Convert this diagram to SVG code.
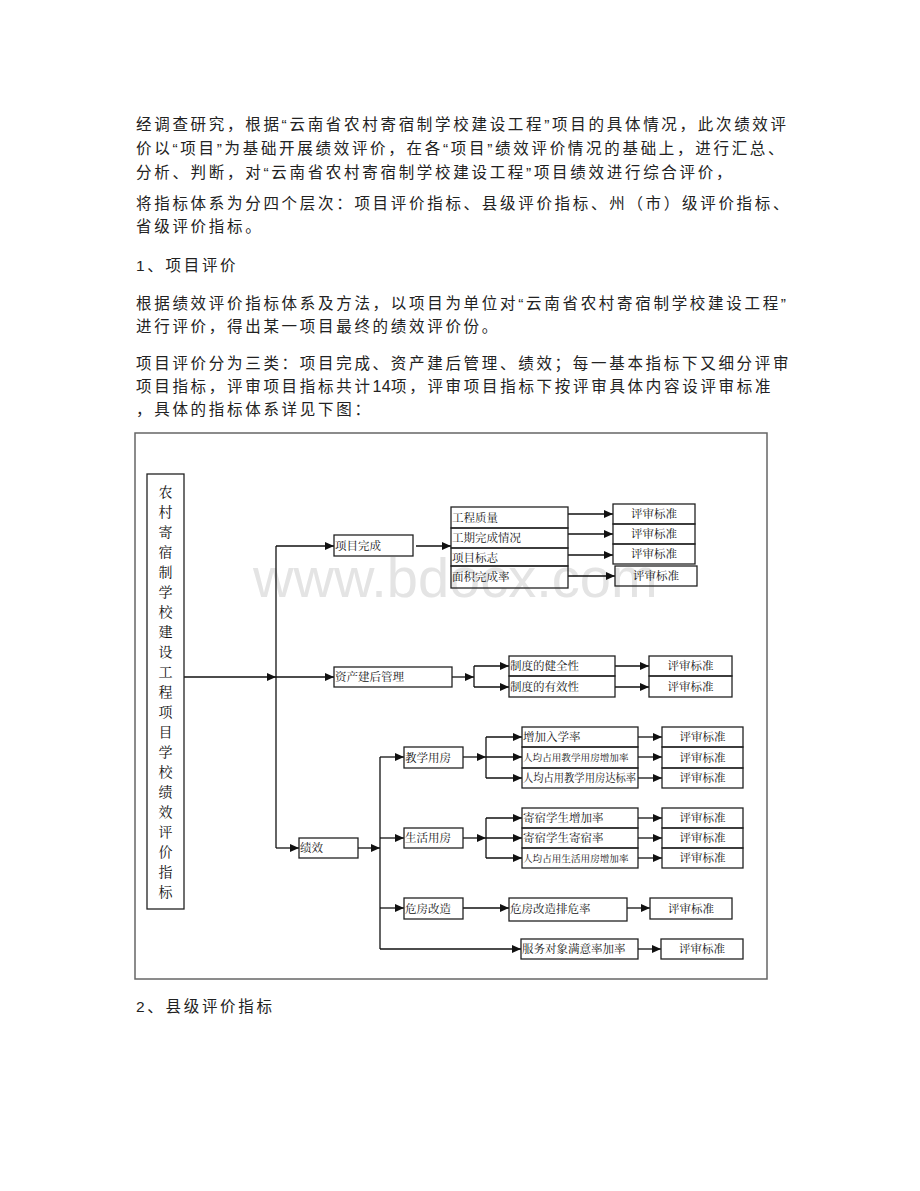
<svg xmlns="http://www.w3.org/2000/svg" width="920" height="1191" viewBox="0 0 920 1191">
<style>
.p{font-family:"Liberation Sans","Noto Sans CJK SC",sans-serif;font-size:15.5px;letter-spacing:2.7px;fill:#222}
.d{letter-spacing:0.3px;font-size:16px}
.box{fill:none;stroke:#222;stroke-width:1.3}
.ln{fill:none;stroke:#111;stroke-width:1.3}
.t{font-family:"Noto Serif CJK SC","Noto Sans CJK SC",serif;font-size:11.5px;fill:#111}
.s{font-size:9.6px}
.c{text-anchor:middle}
.v{font-family:"Noto Serif CJK SC","Noto Sans CJK SC",serif;font-size:14px;fill:#111;text-anchor:middle}
.wm{font-family:"Liberation Sans",Arial,sans-serif;font-size:56px;fill:#e4e4e4}
</style>
<defs>
<marker id="ar" markerUnits="userSpaceOnUse" markerWidth="10" markerHeight="8" refX="9" refY="4" orient="auto">
<path d="M0,0 L9,4 L0,8 Z" fill="#111"/>
</marker>
</defs>
<rect width="920" height="1191" fill="#fff"/>

<g id="body-text">
<text class="p" x="136" y="130">经调查研究，根据“云南省农村寄宿制学校建设工程”项目的具体情况，此次绩效评</text>
<text class="p" x="136" y="154">价以“项目”为基础开展绩效评价，在各“项目”绩效评价情况的基础上，进行汇总、</text>
<text class="p" x="136" y="178">分析、判断，对“云南省农村寄宿制学校建设工程”项目绩效进行综合评价，</text>
<text class="p" x="136" y="209">将指标体系为分四个层次：项目评价指标、县级评价指标、州（市）级评价指标、</text>
<text class="p" x="136" y="232">省级评价指标。</text>
<text class="p" x="136" y="271">1、项目评价</text>
<text class="p" x="136" y="309">根据绩效评价指标体系及方法，以项目为单位对“云南省农村寄宿制学校建设工程”</text>
<text class="p" x="136" y="332">进行评价，得出某一项目最终的绩效评价份。</text>
<text class="p" x="136" y="369">项目评价分为三类：项目完成、资产建后管理、绩效；每一基本指标下又细分评审</text>
<text class="p" x="136" y="392">项目指标，评审项目指标共计<tspan class="d">14</tspan>项，评审项目指标下按评审具体内容设评审标准</text>
<text class="p" x="136" y="415">，具体的指标体系详见下图：</text>
<text class="p" x="136" y="1012">2、县级评价指标</text>
</g>

<rect id="frame" x="135" y="433" width="632" height="546" fill="none" stroke="#666" stroke-width="1.5"/>
<text id="watermark" class="wm" x="253" y="597">www.bdocx.com</text>

<g id="connectors">
<path class="ln" d="M184,677 H276" marker-end="url(#ar)"/>
<path class="ln" d="M276,546 V848"/>
<path class="ln" d="M276,546 H334" marker-end="url(#ar)"/>
<path class="ln" d="M276,677 H334" marker-end="url(#ar)"/>
<path class="ln" d="M276,848 H299" marker-end="url(#ar)"/>
<path class="ln" d="M416,546 H451" marker-end="url(#ar)"/>
<path class="ln" d="M568,514 H613" marker-end="url(#ar)"/>
<path class="ln" d="M568,534 H613" marker-end="url(#ar)"/>
<path class="ln" d="M568,555 H613" marker-end="url(#ar)"/>
<path class="ln" d="M568,576 H615" marker-end="url(#ar)"/>
<path class="ln" d="M452,677 H474" marker-end="url(#ar)"/>
<path class="ln" d="M474,666 V687"/>
<path class="ln" d="M474,666 H509" marker-end="url(#ar)"/>
<path class="ln" d="M474,687 H509" marker-end="url(#ar)"/>
<path class="ln" d="M615,666 H649" marker-end="url(#ar)"/>
<path class="ln" d="M615,687 H649" marker-end="url(#ar)"/>
<path class="ln" d="M358,848 H380" marker-end="url(#ar)"/>
<path class="ln" d="M380,757 V949"/>
<path class="ln" d="M380,757 H404" marker-end="url(#ar)"/>
<path class="ln" d="M380,838 H404" marker-end="url(#ar)"/>
<path class="ln" d="M380,908 H404" marker-end="url(#ar)"/>
<path class="ln" d="M380,949 H521" marker-end="url(#ar)"/>
<path class="ln" d="M463,757 H486" marker-end="url(#ar)"/>
<path class="ln" d="M486,737 V778"/>
<path class="ln" d="M486,737 H522" marker-end="url(#ar)"/>
<path class="ln" d="M486,757 H522" marker-end="url(#ar)"/>
<path class="ln" d="M486,778 H522" marker-end="url(#ar)"/>
<path class="ln" d="M638,737 H662" marker-end="url(#ar)"/>
<path class="ln" d="M638,757 H662" marker-end="url(#ar)"/>
<path class="ln" d="M638,778 H662" marker-end="url(#ar)"/>
<path class="ln" d="M463,838 H486" marker-end="url(#ar)"/>
<path class="ln" d="M486,818 V858"/>
<path class="ln" d="M486,818 H522" marker-end="url(#ar)"/>
<path class="ln" d="M486,838 H522" marker-end="url(#ar)"/>
<path class="ln" d="M486,858 H522" marker-end="url(#ar)"/>
<path class="ln" d="M638,818 H662" marker-end="url(#ar)"/>
<path class="ln" d="M638,838 H662" marker-end="url(#ar)"/>
<path class="ln" d="M638,858 H662" marker-end="url(#ar)"/>
<path class="ln" d="M463,908 H509" marker-end="url(#ar)"/>
<path class="ln" d="M627,908 H650" marker-end="url(#ar)"/>
<path class="ln" d="M638,949 H661" marker-end="url(#ar)"/>
</g>

<g id="root">
<rect class="box" x="147" y="474" width="37" height="435"/>
<text class="v" x="165.5" y="497">农</text>
<text class="v" x="165.5" y="517">村</text>
<text class="v" x="165.5" y="537">寄</text>
<text class="v" x="165.5" y="557">宿</text>
<text class="v" x="165.5" y="577">制</text>
<text class="v" x="165.5" y="597">学</text>
<text class="v" x="165.5" y="617">校</text>
<text class="v" x="165.5" y="637">建</text>
<text class="v" x="165.5" y="657">设</text>
<text class="v" x="165.5" y="677">工</text>
<text class="v" x="165.5" y="697">程</text>
<text class="v" x="165.5" y="717">项</text>
<text class="v" x="165.5" y="737">目</text>
<text class="v" x="165.5" y="757">学</text>
<text class="v" x="165.5" y="777">校</text>
<text class="v" x="165.5" y="797">绩</text>
<text class="v" x="165.5" y="817">效</text>
<text class="v" x="165.5" y="837">评</text>
<text class="v" x="165.5" y="857">价</text>
<text class="v" x="165.5" y="877">指</text>
<text class="v" x="165.5" y="897">标</text>
</g>

<g id="n-xmwc"><rect class="box" x="334" y="535" width="79" height="21"/><text class="t" x="335" y="550">项目完成</text></g>
<g id="n-zcjhgl"><rect class="box" x="334" y="667" width="118" height="20"/><text class="t" x="335" y="681">资产建后管理</text></g>
<g id="n-jx"><rect class="box" x="299" y="838" width="59" height="20"/><text class="t" x="300" y="852">绩效</text></g>

<g id="n-gczl"><rect class="box" x="451" y="507" width="117" height="21"/><text class="t" x="452" y="522">工程质量</text></g>
<g id="n-gqwc"><rect class="box" x="451" y="528" width="117" height="20"/><text class="t" x="452" y="542">工期完成情况</text></g>
<g id="n-xmbz"><rect class="box" x="451" y="548" width="117" height="18"/><text class="t" x="452" y="561.5">项目标志</text></g>
<g id="n-mjwcl"><rect class="box" x="451" y="566" width="117" height="22"/><text class="t" x="452" y="581">面积完成率</text></g>
<g id="n-ps1"><rect class="box" x="613" y="504" width="82" height="20"/><text class="t c" x="654" y="518">评审标准</text></g>
<g id="n-ps2"><rect class="box" x="613" y="524" width="82" height="20"/><text class="t c" x="654" y="538">评审标准</text></g>
<g id="n-ps3"><rect class="box" x="613" y="544" width="82" height="20"/><text class="t c" x="654" y="558">评审标准</text></g>
<g id="n-ps4"><rect class="box" x="615" y="566" width="82" height="20"/><text class="t c" x="656" y="580">评审标准</text></g>

<g id="n-zdjq"><rect class="box" x="509" y="656" width="106" height="20"/><text class="t" x="510" y="670">制度的健全性</text></g>
<g id="n-zdyx"><rect class="box" x="509" y="676" width="106" height="21"/><text class="t" x="510" y="691">制度的有效性</text></g>
<g id="n-ps5"><rect class="box" x="649" y="656" width="83" height="20"/><text class="t c" x="690.5" y="670">评审标准</text></g>
<g id="n-ps6"><rect class="box" x="649" y="676" width="83" height="21"/><text class="t c" x="690.5" y="691">评审标准</text></g>

<g id="n-jxyf"><rect class="box" x="404" y="747" width="59" height="21"/><text class="t" x="405" y="762">教学用房</text></g>
<g id="n-shyf"><rect class="box" x="404" y="828" width="59" height="20"/><text class="t" x="405" y="842">生活用房</text></g>
<g id="n-wfgz"><rect class="box" x="404" y="898" width="59" height="21"/><text class="t" x="405" y="913">危房改造</text></g>

<g id="n-zjrxl"><rect class="box" x="522" y="727" width="116" height="20"/><text class="t" x="523" y="741">增加入学率</text></g>
<g id="n-jxzj"><rect class="box" x="522" y="747" width="116" height="21"/><text class="t s" x="523" y="761">人均占用教学用房增加率</text></g>
<g id="n-jxdb"><rect class="box" x="522" y="768" width="116" height="20"/><text class="t" x="523" y="782" textLength="113" lengthAdjust="spacingAndGlyphs">人均占用教学用房达标率</text></g>
<g id="n-ps7"><rect class="box" x="662" y="727" width="81" height="20"/><text class="t c" x="702.5" y="741">评审标准</text></g>
<g id="n-ps8"><rect class="box" x="662" y="747" width="81" height="21"/><text class="t c" x="702.5" y="762">评审标准</text></g>
<g id="n-ps9"><rect class="box" x="662" y="768" width="81" height="20"/><text class="t c" x="702.5" y="782">评审标准</text></g>

<g id="n-jsxszj"><rect class="box" x="522" y="808" width="116" height="20"/><text class="t" x="523" y="822">寄宿学生增加率</text></g>
<g id="n-jsxsjs"><rect class="box" x="522" y="828" width="116" height="20"/><text class="t" x="523" y="842">寄宿学生寄宿率</text></g>
<g id="n-shzj"><rect class="box" x="522" y="848" width="116" height="20"/><text class="t s" x="523" y="862">人均占用生活用房增加率</text></g>
<g id="n-ps10"><rect class="box" x="662" y="808" width="81" height="20"/><text class="t c" x="702.5" y="822">评审标准</text></g>
<g id="n-ps11"><rect class="box" x="662" y="828" width="81" height="20"/><text class="t c" x="702.5" y="842">评审标准</text></g>
<g id="n-ps12"><rect class="box" x="662" y="848" width="81" height="20"/><text class="t c" x="702.5" y="862">评审标准</text></g>

<g id="n-wfpwl"><rect class="box" x="509" y="898" width="118" height="23"/><text class="t" x="510" y="913">危房改造排危率</text></g>
<g id="n-ps13"><rect class="box" x="650" y="898" width="82" height="21"/><text class="t c" x="691" y="913">评审标准</text></g>
<g id="n-fwdx"><rect class="box" x="521" y="939" width="117" height="20"/><text class="t" x="522" y="953">服务对象满意率加率</text></g>
<g id="n-ps14"><rect class="box" x="661" y="939" width="82" height="20"/><text class="t c" x="702" y="953">评审标准</text></g>
</svg>
